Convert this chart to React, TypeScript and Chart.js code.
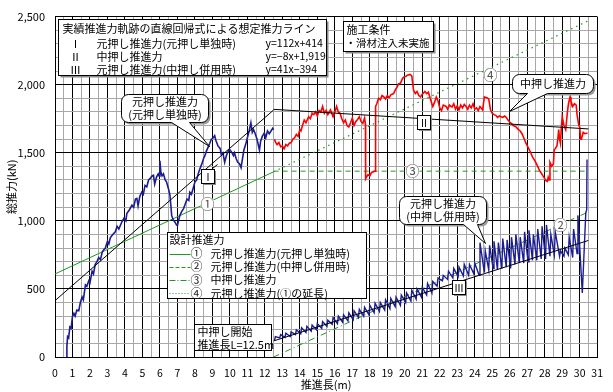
import React, { useEffect, useRef } from 'react';
import { Chart, registerables } from 'chart.js';

Chart.register(...registerables);

const FONT = "'Noto Sans CJK JP', 'Noto Sans', sans-serif";

// Axis ranges and ticks
const X_MIN = 0;
const X_MAX = 31;
const X_STEP = 0.5;
const Y_MIN = 0;
const Y_MAX = 2500;
const Y_STEP = 100;
const Y_MAJOR = 500;

// 元押し推進力（元押し単独時） [推進長 m, 総推力 kN]
const blueSoloPts: [number, number][] = [
  [0.68, 0], [0.68, 80], [0.72, 150], [0.78, 140], [0.85, 220], [0.92, 210], [1.0, 300], [1.08, 320],
  [1.15, 300], [1.25, 345], [1.36, 340], [1.45, 400], [1.55, 440], [1.62, 420], [1.74, 530], [1.82, 520],
  [1.93, 560], [2.0, 545], [2.12, 630], [2.2, 610], [2.3, 680], [2.4, 700], [2.5, 730], [2.6, 715],
  [2.7, 770], [2.8, 790], [2.88, 800], [3.0, 850], [3.08, 830], [3.16, 875], [3.3, 900], [3.45, 920],
  [3.55, 960], [3.65, 940], [3.83, 995], [3.95, 1020], [4.05, 1000], [4.11, 1055], [4.25, 1080], [4.4, 1115],
  [4.5, 1100], [4.6, 1160], [4.68, 1165], [4.75, 1110], [4.85, 1180], [4.96, 1210], [5.05, 1195], [5.15, 1260],
  [5.25, 1250], [5.35, 1300], [5.43, 1310], [5.55, 1330], [5.63, 1335], [5.7, 1270], [5.8, 1320], [5.9, 1345],
  [5.95, 1330], [6.0, 1440], [6.05, 1360], [6.12, 1330], [6.2, 1345], [6.3, 1300], [6.38, 1285], [6.48, 1240],
  [6.57, 1190], [6.62, 1120], [6.67, 1040], [6.75, 1010], [6.86, 990], [6.95, 970], [7.0, 965], [7.08, 1010],
  [7.14, 1040], [7.25, 1070], [7.35, 1090], [7.42, 1115], [7.55, 1160], [7.65, 1150], [7.71, 1210], [7.8, 1195],
  [7.9, 1240], [8.0, 1285], [8.1, 1300], [8.2, 1350], [8.28, 1380], [8.4, 1420], [8.5, 1460], [8.56, 1475],
  [8.65, 1510], [8.75, 1540], [8.85, 1570], [8.94, 1600], [9.05, 1610], [9.13, 1625], [9.2, 1590], [9.32, 1550],
  [9.45, 1530], [9.5, 1490], [9.6, 1500], [9.7, 1430], [9.8, 1480], [9.9, 1510], [9.98, 1525], [10.1, 1505],
  [10.2, 1480], [10.26, 1500], [10.35, 1460], [10.45, 1430], [10.55, 1420], [10.64, 1390], [10.7, 1440], [10.8, 1520],
  [10.9, 1560], [11.0, 1610], [11.1, 1660], [11.2, 1720], [11.28, 1650], [11.35, 1670], [11.45, 1640], [11.55, 1600],
  [11.69, 1520], [11.75, 1580], [11.85, 1620], [11.97, 1645], [12.05, 1610], [12.15, 1660], [12.25, 1640], [12.35, 1660],
  [12.45, 1680], [12.5, 1670],
];

// 元押し推進力（中押し併用時）
const blueMidPts: [number, number][] = [
  [12.55, 120], [12.6, 150], [12.85, 140], [12.9, 165], [13.15, 145], [13.2, 175], [13.45, 150], [13.5, 185],
  [13.75, 165], [13.8, 200], [14.05, 170], [14.1, 215], [14.35, 180], [14.4, 225], [14.65, 190], [14.7, 235],
  [14.95, 200], [15.0, 245], [15.25, 210], [15.3, 260], [15.55, 225], [15.6, 270], [15.85, 240], [15.9, 290],
  [16.15, 245], [16.2, 300], [16.45, 255], [16.5, 310], [16.75, 265], [16.8, 325], [17.05, 275], [17.1, 340],
  [17.35, 290], [17.4, 350], [17.65, 300], [17.7, 365], [17.95, 310], [18.0, 380], [18.25, 325], [18.3, 395],
  [18.55, 335], [18.6, 400], [18.85, 345], [18.9, 420], [19.15, 355], [19.2, 430], [19.45, 370], [19.5, 440],
  [19.75, 380], [19.8, 455], [20.05, 400], [20.1, 470], [20.35, 410], [20.4, 490], [20.65, 425], [20.7, 500],
  [20.95, 440], [21.0, 510], [21.25, 455], [21.3, 540], [21.55, 470], [21.6, 555], [21.85, 520], [21.9, 580],
  [22.15, 560], [22.2, 600], [22.45, 570], [22.5, 630], [22.75, 580], [22.8, 650], [23.05, 590], [23.1, 660],
  [23.35, 595], [23.4, 680], [23.65, 600], [23.7, 680], [23.95, 610], [24.0, 690], [24.25, 600], [24.3, 840],
  [24.55, 620], [24.6, 780], [24.8, 640], [24.85, 820], [25.05, 650], [25.1, 850], [25.3, 640], [25.35, 840],
  [25.55, 650], [25.6, 870], [25.8, 660], [25.85, 860], [26.05, 650], [26.1, 880], [26.3, 680], [26.35, 900],
  [26.55, 690], [26.6, 880], [26.8, 690], [26.85, 920], [27.05, 700], [27.1, 930], [27.3, 710], [27.35, 900],
  [27.55, 710], [27.6, 940], [27.8, 720], [27.85, 960], [28.05, 720], [28.1, 970], [28.3, 740], [28.35, 900],
  [28.55, 750], [28.6, 920], [28.85, 740], [28.9, 780], [29.1, 740], [29.15, 800], [29.35, 750], [29.4, 880],
  [29.6, 730], [29.65, 940], [29.85, 760], [29.9, 1040], [30.15, 470], [30.35, 1060], [30.4, 1080], [30.42, 1450],
];

// 中押し推進力
const redPts: [number, number][] = [
  [12.55, 1600], [12.6, 1580], [12.7, 1560], [12.8, 1575], [12.9, 1545], [13.0, 1550], [13.1, 1530], [13.2, 1560],
  [13.3, 1550], [13.4, 1570], [13.5, 1575], [13.6, 1600], [13.7, 1610], [13.8, 1635], [13.9, 1620], [14.0, 1670],
  [14.06, 1660], [14.15, 1700], [14.25, 1740], [14.35, 1720], [14.5, 1765], [14.6, 1750], [14.7, 1790], [14.8, 1780],
  [14.9, 1800], [15.0, 1770], [15.1, 1810], [15.2, 1800], [15.3, 1840], [15.4, 1790], [15.5, 1810], [15.6, 1780],
  [15.75, 1815], [15.9, 1765], [16.0, 1800], [16.1, 1840], [16.2, 1800], [16.3, 1790], [16.4, 1750], [16.5, 1720],
  [16.6, 1740], [16.7, 1700], [16.8, 1690], [16.9, 1720], [17.0, 1755], [17.1, 1700], [17.2, 1730], [17.3, 1745],
  [17.4, 1765], [17.5, 1730], [17.6, 1715], [17.7, 1755], [17.75, 1710], [17.76, 1310], [17.8, 1320], [17.9, 1340],
  [18.0, 1330], [18.1, 1355], [18.2, 1360], [18.3, 1365], [18.33, 1840], [18.4, 1860], [18.5, 1900], [18.6, 1890],
  [18.7, 1920], [18.8, 1910], [18.9, 1895], [19.0, 1920], [19.1, 1905], [19.2, 1925], [19.36, 1935], [19.45, 1960],
  [19.55, 1980], [19.64, 2005], [19.75, 2010], [19.85, 2040], [19.93, 2055], [20.05, 2060], [20.15, 2070], [20.3, 2075],
  [20.4, 2065], [20.5, 1960], [20.6, 1935], [20.7, 1950], [20.8, 1920], [20.9, 1910], [21.0, 1930], [21.15, 1950],
  [21.25, 1935], [21.35, 1945], [21.45, 1900], [21.6, 1840], [21.7, 1870], [21.8, 1910], [21.9, 1880], [22.0, 1830],
  [22.1, 1810], [22.2, 1850], [22.36, 1840], [22.45, 1820], [22.55, 1850], [22.7, 1835], [22.8, 1860], [22.9, 1820],
  [23.0, 1845], [23.1, 1815], [23.2, 1850], [23.3, 1830], [23.4, 1855], [23.5, 1840], [23.6, 1820], [23.7, 1850],
  [23.8, 1830], [23.9, 1860], [24.0, 1820], [24.1, 1830], [24.2, 1810], [24.3, 1840], [24.45, 1815], [24.55, 1910],
  [24.7, 1905], [24.8, 1895], [24.9, 1815], [25.0, 1790], [25.1, 1780], [25.2, 1775], [25.3, 1760], [25.4, 1770],
  [25.5, 1765], [25.6, 1760], [25.7, 1770], [25.8, 1760], [25.9, 1740], [26.0, 1725], [26.1, 1715], [26.2, 1700],
  [26.36, 1690], [26.5, 1670], [26.6, 1660], [26.7, 1640], [26.8, 1610], [26.93, 1570], [27.05, 1540], [27.2, 1500],
  [27.3, 1470], [27.4, 1450], [27.5, 1425], [27.6, 1400], [27.7, 1370], [27.78, 1355], [27.9, 1330], [28.0, 1310],
  [28.07, 1295], [28.15, 1290], [28.2, 1320], [28.25, 1300], [28.3, 1430], [28.4, 1400], [28.5, 1420], [28.54, 1520],
  [28.6, 1530], [28.7, 1550], [28.75, 1600], [28.8, 1670], [28.85, 1600], [28.9, 1570], [28.95, 1680], [29.0, 1765],
  [29.1, 1700], [29.2, 1670], [29.3, 1800], [29.36, 1860], [29.45, 1910], [29.5, 1880], [29.6, 1840], [29.7, 1860],
  [29.8, 1850], [29.85, 1780], [29.95, 1700], [30.0, 1690], [30.05, 1600], [30.1, 1600], [30.2, 1650], [30.3, 1640],
  [30.45, 1645],
];

// 想定推力ライン（回帰直線）
const regI: [number, number][] = [[0, 414], [12.5, 1814]];
const regII: [number, number][] = [[12.5, 1819], [30.5, 1675]];
const regIII: [number, number][] = [[12.5, 118], [30.5, 856]];

// 設計推進力
const design1: [number, number][] = [[0, 610], [12.5, 1360]];
const design2: [number, number][] = [[12.5, 0], [30.4, 1060]];
const design3: [number, number][] = [[12.5, 1365], [30.4, 1365]];
const design4: [number, number][] = [[12.5, 1360], [30.5, 2470]];

const toXY = (pts: [number, number][]) => pts.map(([x, y]) => ({ x, y }));

const BLUE = '#1c1c94';
const RED = '#ff0000';
const GREEN = '#1f9a1f';

function roundRectPath(ctx: CanvasRenderingContext2D, x: number, y: number, w: number, h: number, r: number,
  tail?: { b1: number; b2: number; tx: number; ty: number }) {
  ctx.beginPath();
  ctx.moveTo(x + r, y);
  ctx.lineTo(x + w - r, y);
  ctx.arcTo(x + w, y, x + w, y + r, r);
  ctx.lineTo(x + w, y + h - r);
  ctx.arcTo(x + w, y + h, x + w - r, y + h, r);
  if (tail) {
    ctx.lineTo(x + tail.b2, y + h);
    ctx.lineTo(tail.tx, tail.ty);
    ctx.lineTo(x + tail.b1, y + h);
  }
  ctx.lineTo(x + r, y + h);
  ctx.arcTo(x, y + h, x, y + h - r, r);
  ctx.lineTo(x, y + r);
  ctx.arcTo(x, y, x + r, y, r);
  ctx.closePath();
}

const annotationPlugin = {
  id: 'annotations',
  afterDatasetsDraw(chart: any) {
    const ctx: CanvasRenderingContext2D = chart.ctx;
    const xs = chart.scales.x;
    const ys = chart.scales.y;
    const P = (x: number, y: number) => [Math.round(xs.getPixelForValue(x)) + 0.5, Math.round(ys.getPixelForValue(y)) + 0.5];
    ctx.save();
    ctx.textBaseline = 'middle';

    const box = (x: number, y: number, w: number, h: number, shadow = true) => {
      if (shadow) {
        ctx.fillStyle = '#8a8a8a';
        ctx.fillRect(x + 2, y + 2, w, h);
      }
      ctx.fillStyle = '#fff';
      ctx.fillRect(x, y, w, h);
      ctx.strokeStyle = '#000';
      ctx.lineWidth = 1;
      ctx.strokeRect(x, y, w, h);
    };
    const text = (s: string, x: number, y: number, size = 11, align: CanvasTextAlign = 'left', color = '#000') => {
      ctx.font = `${size}px ${FONT}`;
      ctx.textAlign = align;
      ctx.fillStyle = color;
      ctx.fillText(s, x, y);
    };
    const callout = (x: number, y: number, w: number, h: number, b1: number, b2: number, tip: number[], lines: string[]) => {
      ctx.save();
      ctx.translate(2, 2);
      roundRectPath(ctx, x, y, w, h, 7);
      ctx.fillStyle = '#9a9a9a';
      ctx.fill();
      ctx.restore();
      roundRectPath(ctx, x, y, w, h, 7, { b1, b2, tx: tip[0], ty: tip[1] });
      ctx.fillStyle = '#fff';
      ctx.fill();
      ctx.strokeStyle = '#000';
      ctx.lineWidth = 1;
      ctx.stroke();
      const lh = 13;
      const cy = y + h / 2 - ((lines.length - 1) * lh) / 2;
      lines.forEach((s, i) => text(s, x + w / 2, cy + i * lh, 11, 'center'));
    };
    const tag = (s: string, c: number[]) => {
      const w = 13, h = 14;
      const x = Math.round(c[0] - w / 2) + 0.5, y = Math.round(c[1] - h / 2) + 0.5;
      ctx.fillStyle = '#8a8a8a';
      ctx.fillRect(x + 1.5, y + 1.5, w, h);
      ctx.fillStyle = '#fff';
      ctx.fillRect(x, y, w, h);
      ctx.strokeStyle = '#000';
      ctx.strokeRect(x, y, w, h);
      text(s, x + w / 2, y + h / 2 + 0.5, 10, 'center');
    };
    const circled = (s: string, c: number[]) => {
      ctx.beginPath();
      ctx.arc(c[0], c[1], 7, 0, Math.PI * 2);
      ctx.fillStyle = '#fff';
      ctx.fill();
      text(s, c[0], c[1] + 0.5, 14, 'center', '#555');
    };

    // 回帰式ボックス
    {
      const [x, y] = P(0.17, 2486);
      box(x, y, 268, 56);
      text('実績推進力軌跡の直線回帰式による想定推力ライン', x + 4, y + 9, 11);
      const rows = [
        ['Ⅰ', '元押し推進力(元押し単独時)', 'y=112x+414'],
        ['Ⅱ', '中押し推進力', 'y=−8x+1,919'],
        ['Ⅲ', '元押し推進力(中押し併用時)', 'y=41x−394'],
      ];
      rows.forEach((r, i) => {
        const ry = y + 24 + i * 13;
        text(r[0], x + 17, ry, 11, 'center');
        text(r[1], x + 38, ry, 11);
        text(r[2], x + 207, ry, 10.5);
      });
    }
    // 施工条件
    {
      const [x, y] = P(16.49, 2467);
      box(x, y, 90, 30);
      text('施工条件', x + 3, y + 8, 11);
      text('・滑材注入未実施', x + 2, y + 22, 10.5);
    }
    // 吹き出し
    {
      const [x, y] = P(3.78, 1928);
      callout(x, y, 87, 28, 50, 68, P(8.8, 1551), ['元押し推進力', '(元押し単独時)']);
    }
    {
      const [x, y] = P(26.12, 2080);
      callout(x, y, 81, 19, 15, 35, P(25.95, 1808), ['中押し推進力']);
    }
    {
      const [x, y] = P(19.68, 1186);
      callout(x, y, 87, 28, 64, 78, P(24.6, 835), ['元押し推進力', '(中押し併用時)']);
    }
    // 設計推進力 凡例
    {
      const [x, y] = P(6.42, 920);
      box(x, y, 199, 66, false);
      text('設計推進力', x + 2, y + 7, 11);
      const rows: [string, string, number[]][] = [
        ['①', '元押し推進力(元押し単独時)', []],
        ['②', '元押し推進力(中押し併用時)', [4, 2]],
        ['③', '中押し推進力', [6, 2, 1, 2]],
        ['④', '元押し推進力(①の延長)', [1, 2]],
      ];
      rows.forEach((r, i) => {
        const ry = y + 21 + i * 13.3;
        ctx.beginPath();
        ctx.setLineDash(r[2]);
        ctx.strokeStyle = GREEN;
        ctx.lineWidth = 1;
        ctx.moveTo(x + 2, Math.round(ry) + 0.5);
        ctx.lineTo(x + 23, Math.round(ry) + 0.5);
        ctx.stroke();
        ctx.setLineDash([]);
        text(r[0], x + 29, ry, 12, 'center', '#222');
        text(r[1], x + 43, ry, 11);
      });
    }
    // 中押し開始
    {
      const [x, y] = P(7.95, 246);
      box(x, y, 77, 26, false);
      text('中押し開始', x + 3, y + 7, 11);
      text('推進長L=12.5m', x + 3, y + 20, 11);
    }
    // ローマ数字タグ
    {
      const c = P(8.7, 1337);
      const t = P(9.25, 1420);
      ctx.beginPath();
      ctx.strokeStyle = '#000';
      ctx.moveTo(c[0] + 5, c[1] - 7);
      ctx.lineTo(t[0], t[1]);
      ctx.stroke();
      tag('Ⅰ', c);
    }
    tag('Ⅱ', P(21.05, 1736));
    tag('Ⅲ', P(23.05, 518));
    // 丸数字
    circled('①', P(8.7, 1133));
    circled('②', P(28.86, 976));
    circled('③', P(20.44, 1370));
    circled('④', P(24.88, 2080));

    ctx.restore();
  },
  afterDraw(chart: any) {
    const ctx: CanvasRenderingContext2D = chart.ctx;
    const area = chart.chartArea;
    ctx.save();
    ctx.fillStyle = '#000';
    ctx.font = `11px ${FONT}`;
    ctx.textAlign = 'center';
    ctx.textBaseline = 'middle';
    ctx.fillText('推進長(m)', (area.left + area.right) / 2, 385);
    ctx.translate(12, (area.top + area.bottom) / 2);
    ctx.rotate(-Math.PI / 2);
    ctx.fillText('総推力(kN)', 0, 0);
    ctx.restore();
  },
};

const lineDs = (label: string, pts: [number, number][], color: string, width: number, dash: number[] = []) => ({
  label,
  data: toXY(pts),
  showLine: true,
  borderColor: color,
  backgroundColor: color,
  borderWidth: width,
  borderDash: dash,
  pointRadius: 0,
  tension: 0,
  fill: false,
});

export default function App() {
  const ref = useRef<HTMLCanvasElement>(null);
  useEffect(() => {
    if (!ref.current) return;
    const chart = new Chart(ref.current, {
      type: 'scatter',
      data: {
        datasets: [
          lineDs('Ⅰ', regI, '#000', 1),
          lineDs('Ⅱ', regII, '#000', 1),
          lineDs('Ⅲ', regIII, '#000', 1),
          lineDs('元押し推進力(元押し単独時)', blueSoloPts, BLUE, 1.6),
          lineDs('元押し推進力(中押し併用時)', blueMidPts, BLUE, 1.4),
          lineDs('中押し推進力', redPts, RED, 1.6),
          lineDs('①', design1, GREEN, 1),
          lineDs('②', design2, GREEN, 1, [6, 3, 1, 3]),
          lineDs('③', design3, GREEN, 1, [5, 4]),
          lineDs('④', design4, GREEN, 1.2, [1.5, 4]),
        ],
      },
      options: {
        responsive: false,
        animation: false,
        devicePixelRatio: 1,
        layout: { padding: { top: 12, right: 12, left: 0, bottom: 0 } },
        plugins: { legend: { display: false }, tooltip: { enabled: false }, title: { display: false } },
        scales: {
          x: {
            type: 'linear',
            min: X_MIN,
            max: X_MAX,
            afterFit: (s: any) => { s.height = 35; },
            ticks: {
              stepSize: X_STEP,
              autoSkip: false,
              maxRotation: 0,
              minRotation: 0,
              padding: 10,
              color: '#000',
              font: { family: FONT, size: 10.5 },
              callback: (v: any) => (Number(v) % 1 === 0 ? String(v) : ''),
            },
            grid: {
              drawTicks: false,
              color: (c: any) => (c.tick && c.tick.value % 1 === 0 ? '#000' : '#a8a8a8'),
              lineWidth: 1,
            },
            border: { color: '#000', width: 1 },
          },
          y: {
            type: 'linear',
            min: Y_MIN,
            max: Y_MAX,
            afterFit: (s: any) => { s.width = 55; },
            ticks: {
              stepSize: Y_STEP,
              autoSkip: false,
              padding: 10,
              color: '#000',
              font: { family: FONT, size: 11 },
              callback: (v: any) => (Number(v) % Y_MAJOR === 0 ? Number(v).toLocaleString('en-US') : ''),
            },
            grid: {
              drawTicks: false,
              color: (c: any) => (c.tick && c.tick.value % Y_MAJOR === 0 ? '#000' : '#a8a8a8'),
              lineWidth: 1,
            },
            border: { color: '#000', width: 1 },
          },
        },
      },
      plugins: [annotationPlugin],
    } as any);
    return () => chart.destroy();
  }, []);
  return (
    <div style={{ position: 'absolute', left: 0, top: 0, width: 613, height: 392, background: '#fff' }}>
      <canvas ref={ref} width={613} height={392} style={{ display: 'block' }} />
    </div>
  );
}
